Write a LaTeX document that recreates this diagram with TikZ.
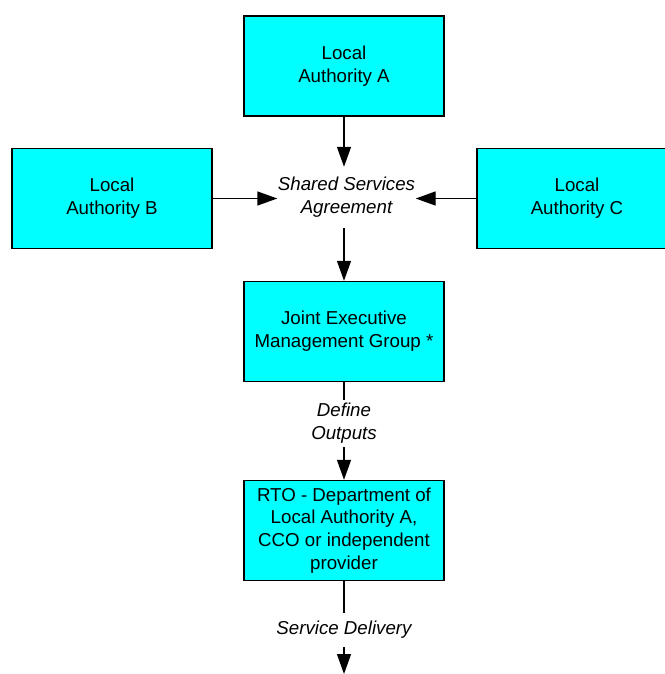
\documentclass[tikz,border=0pt]{standalone}
\usepackage{fontspec}
\setmainfont{Liberation Sans}
\usetikzlibrary{arrows.meta}
\definecolor{boxfill}{RGB}{0,255,255}
\begin{document}
\begin{tikzpicture}[x=1pt,y=-1pt,
  txt/.style={font=\fontsize{18.7}{22.7}\selectfont},
  box/.style={txt, draw=black, line width=1.4pt, fill=boxfill, minimum width=200pt,
    minimum height=100pt, align=center, inner sep=0pt},
  lbl/.style={font=\fontsize{18.7}{22.7}\selectfont\itshape, align=center, inner sep=0pt},
  ln/.style={line width=1.4pt},
  arr/.style={ln, -{Triangle[length=20pt,width=14pt]}}]
\useasboundingbox (0,0) rectangle (664,674);

% organisations
\node[box] (la) at (344,66) {Local\\Authority A};
\node[box] (lb) at (112,198.5) {Local\\Authority B};
\node[box] (lc) at (577,198.5) {Local\\Authority C};
\node[box] (jemg) at (344,331.5) {Joint Executive\\Management Group *};
\node[box] (rto) at (344,530.5) {RTO - Department of\\Local Authority A,\\CCO or independent\\provider};

% relationship labels
\node[lbl, minimum width=138pt, minimum height=61pt] (ssa) at (346.5,197.5) {Shared Services\\Agreement};
\node[lbl, minimum width=80pt, minimum height=47pt] (def) at (344,423.5) {Define\\Outputs};
\node[lbl, minimum width=150pt, minimum height=34pt] (sd) at (344,630) {Service Delivery};
\coordinate (out) at (344,674);

% connectors
\draw[arr] (la.south) -- (la.south |- ssa.north);
\draw[arr] (lb.east) -- (lb.east -| ssa.west);
\draw[arr] (lc.west) -- (lc.west -| ssa.east);
\draw[arr] (la.south |- ssa.south) -- (jemg.north);
\draw[ln] (jemg.south) -- (def.north);
\draw[arr] (def.south) -- (rto.north);
\draw[ln] (rto.south) -- (sd.north);
\draw[arr] (sd.south) -- (out);
\end{tikzpicture}
\end{document}
